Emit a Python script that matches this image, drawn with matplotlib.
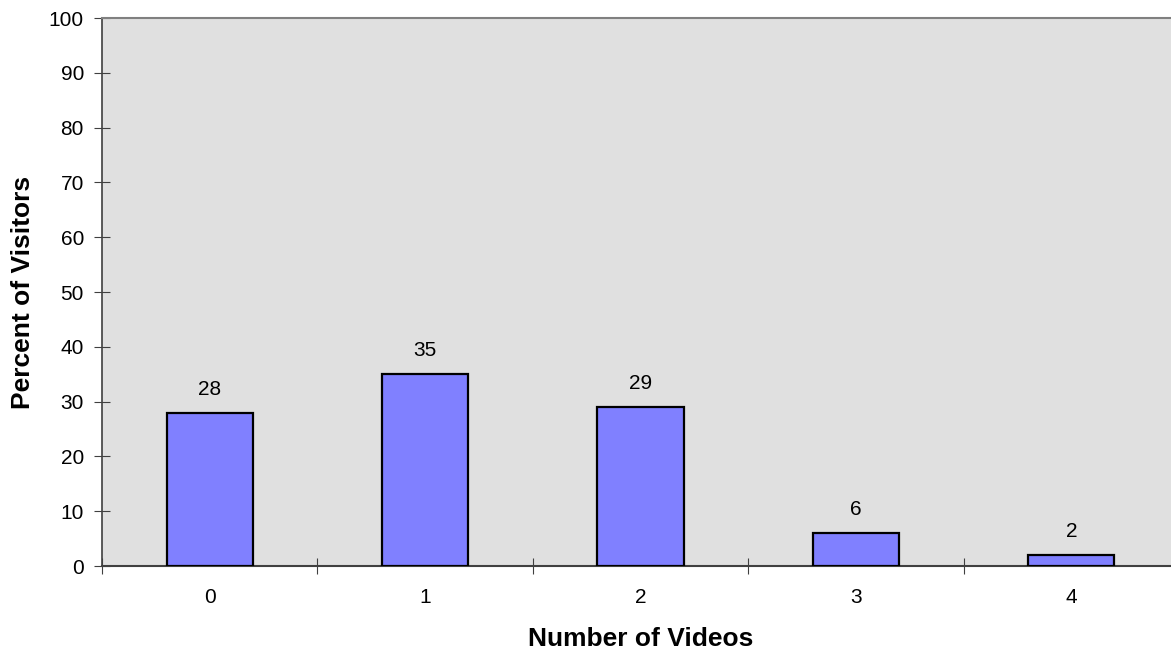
import matplotlib.pyplot as plt
import numpy as np

plt.rcParams['font.family'] = ['Liberation Sans', 'DejaVu Sans']

categories = ['0', '1', '2', '3', '4']
percent = [28, 35, 29, 6, 2]

W, H = 1171, 651
fig = plt.figure(figsize=(W / 100, H / 100), dpi=100)
# plot area runs a little past the right edge of the figure
ax = fig.add_axes([102 / W, (H - 566) / H, (1179 - 102) / W, (566 - 18) / H])
ax.set_facecolor('#E0E0E0')

x = np.arange(len(categories))
ax.bar(x, percent, width=0.4, color='#8080FF', edgecolor='black', linewidth=1.6, zorder=3)
for xi, v in zip(x, percent):
    ax.annotate(str(v), (xi, v), xytext=(0, 10), textcoords='offset points',
                ha='center', va='bottom', fontsize=15)

ax.set_xlim(-0.5, 4.5)
ax.set_ylim(0, 100)
ax.set_yticks(range(0, 101, 10))
ax.set_xticks(x)
ax.set_xticklabels(categories)
ax.set_xticks(np.arange(-0.5, 5, 1), minor=True)
ax.tick_params(axis='x', which='major', length=0, pad=16, labelsize=15)
ax.tick_params(axis='x', which='minor', direction='inout', length=12, width=0.8, color='#404040')
ax.tick_params(axis='y', direction='inout', length=12, width=0.8, color='#404040', labelsize=15, pad=7)

ax.spines['right'].set_visible(False)
ax.spines['top'].set_color('#808080')
ax.spines['top'].set_linewidth(1.5)
ax.spines['left'].set_color('#404040')
ax.spines['left'].set_linewidth(1.2)
ax.spines['bottom'].set_color('#404040')
ax.spines['bottom'].set_linewidth(1.5)

ax.set_xlabel('Number of Videos', fontsize=19, fontweight='bold', labelpad=14)
ax.set_ylabel('Percent of Visitors', fontsize=19, fontweight='bold', labelpad=10)

fig.savefig('out.png', dpi=100)
